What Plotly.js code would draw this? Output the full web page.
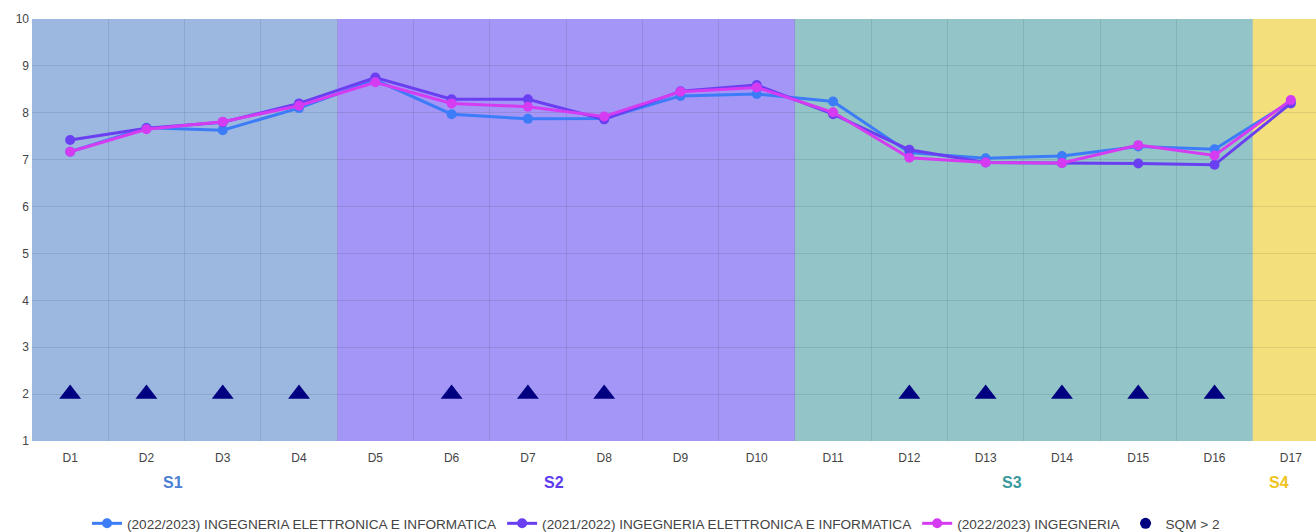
<!DOCTYPE html>
<html>
<head>
<meta charset="utf-8">
<script src="https://cdn.plot.ly/plotly-3.0.1.min.js"></script>
<style>html,body{margin:0;padding:0;background:#fff;}#chart{width:1316px;height:532px;}</style>
</head>
<body>
<div id="chart"></div>
<script>
const categories = ['D1','D2','D3','D4','D5','D6','D7','D8','D9','D10','D11','D12','D13','D14','D15','D16','D17'];
const seriesNames = ['(2022/2023) INGEGNERIA ELETTRONICA E INFORMATICA','(2021/2022) INGEGNERIA ELETTRONICA E INFORMATICA','(2022/2023) INGEGNERIA'];
const blueValues    = [7.17,7.68,7.63,8.10,8.70,7.97,7.87,7.88,8.36,8.40,8.24,7.15,7.03,7.08,7.28,7.22,8.24];
const purpleValues  = [7.42,7.67,7.80,8.20,8.75,8.29,8.29,7.86,8.46,8.59,7.97,7.21,6.94,6.93,6.92,6.89,8.20];
const magentaValues = [7.17,7.65,7.81,8.15,8.65,8.20,8.13,7.92,8.45,8.54,8.01,7.04,6.94,6.93,7.31,7.09,8.27];
const sqmName = 'SQM > 2';
const sqmCategories = ['D1','D2','D3','D4','D6','D7','D8','D12','D13','D14','D15','D16'];
const sqmValue = 2;
const groups = ['S1','S2','S3','S4'];
const groupSizes = [4,6,6,1];
const yTicks = [1,2,3,4,5,6,7,8,9,10];

const lineColors = ['#3d7cf8','#6a3ff2','#d53cf2'];
const bandColors = ['#9cb8e0','#a396f6','#93c4c7','#f3e07d'];
const groupTextColors = ['#4a7fd4','#5d3cf0','#3a999c','#efc41e'];

const idx = categories.map((c,i)=>i);
const traces = [blueValues, purpleValues, magentaValues].map((vals,k)=>({
  type:'scatter', mode:'lines+markers', name: seriesNames[k],
  x: idx, y: vals,
  line:{color: lineColors[k], width:3},
  marker:{color: lineColors[k], size:10}
}));
traces.push({
  type:'scatter', mode:'markers', name: sqmName, showlegend:false,
  x: sqmCategories.map(c=>categories.indexOf(c)),
  y: sqmCategories.map(()=>sqmValue),
  marker:{symbol:'triangle-up', size:19, color:'#000080'},
  hoverinfo:'skip'
});
traces.push({
  type:'scatter', mode:'markers', name: sqmName,
  x:[null], y:[null],
  marker:{symbol:'circle', size:11, color:'#000080'}
});

const shapes = [];
const annotations = [];
let start = 0;
groups.forEach((g,i)=>{
  const x0 = start - 0.5, x1 = start + groupSizes[i] - 0.5;
  shapes.push({type:'rect', xref:'x', yref:'paper', x0:x0, x1:x1, y0:0, y1:1,
    fillcolor: bandColors[i], line:{width:0}, layer:'below'});
  annotations.push({xref:'x', yref:'paper', x:(x0+x1)/2, y:-0.0995, yanchor:'middle', text:'<b>'+g+'</b>',
    showarrow:false, xshift:-12, font:{size:16, color: groupTextColors[i], family:'Liberation Sans, Arial, sans-serif'}});
  start += groupSizes[i];
});

const layout = {
  width:1316, height:532,
  margin:{l:32, r:0, t:19, b:91, autoexpand:false},
  paper_bgcolor:'#fff', plot_bgcolor:'rgba(0,0,0,0)',
  font:{family:'Liberation Sans, Arial, sans-serif', size:12, color:'#444'},
  showlegend:true,
  legend:{orientation:'h', x:0.486, xanchor:'center', yref:'container', y:0.016, yanchor:'middle',
    font:{size:13.6, color:'#444'}, itemwidth:30, tracegroupgap:0},
  xaxis:{type:'linear', range:[-0.5, 16.33], tickvals: idx, ticktext: categories,
    showgrid:false, zeroline:false, showline:false, ticks:'', ticklabelstandoff:8,
    minor:{tickvals: idx.map(i=>i+0.5), showgrid:true, gridcolor:'rgba(0,0,0,0.09)', gridwidth:1, ticks:''},
    fixedrange:true},
  yaxis:{range:[1,10], tickvals:yTicks, showgrid:true, gridcolor:'rgba(0,0,0,0.09)', gridwidth:1,
    zeroline:false, showline:false, ticks:'', ticklabelstandoff:2, fixedrange:true},
  shapes: shapes,
  annotations: annotations,
  hovermode:false
};
Plotly.newPlot('chart', traces, layout, {displayModeBar:false, staticPlot:true});
</script>
</body>
</html>
